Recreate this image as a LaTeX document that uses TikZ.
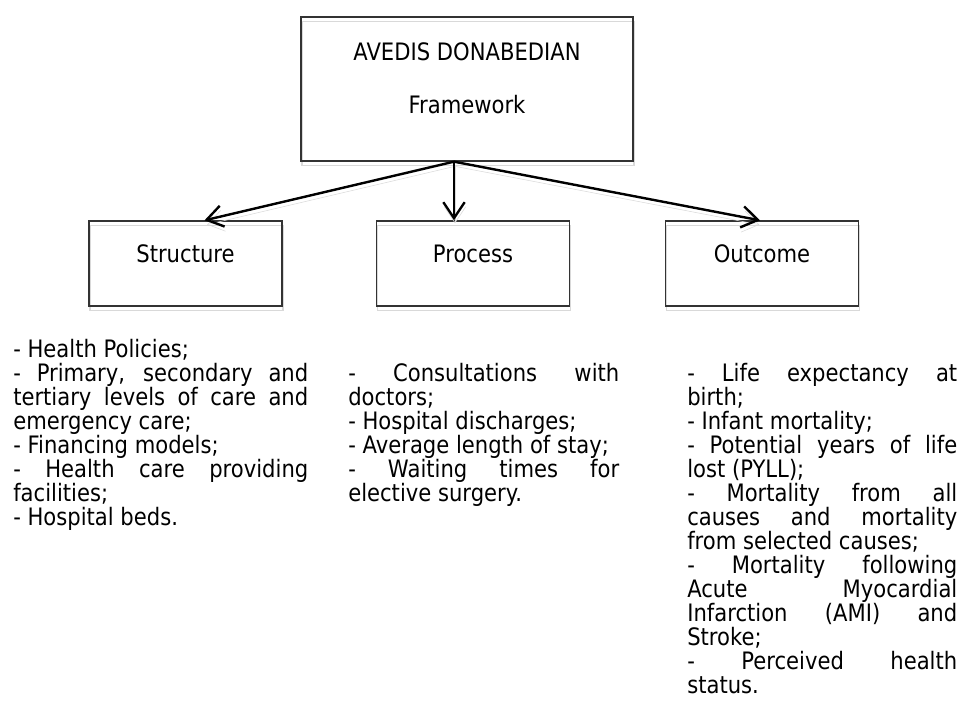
\documentclass[tikz,border=0pt]{standalone}
\usepackage{fontspec}
\setmainfont{DejaVu Sans}[FakeStretch=0.88]
\usetikzlibrary{arrows.meta,calc}
\tolerance=10000
\hbadness=10000
\hyphenpenalty=10000
\lineskiplimit=-10pt

\tikzset{
	softshadow/.style={preaction={draw=black!15,transform canvas={xshift=.75pt,yshift=-3.5pt}}},
}

\begin{document}
\begin{tikzpicture}[x=0.75pt,y=-0.75pt,
		font=\fontsize{18}{18}\selectfont,
		dbox/.style={draw=black!80,line width=1pt,softshadow,minimum width=144.75pt,minimum height=63.75pt,text height=13pt,text depth=15pt},
		itemlist/.style={inner sep=0pt,align=justify,anchor=base west},
		link/.style={-{Straight Barb[length=12pt,width=16pt]},line width=1.8pt,softshadow}]
	\useasboundingbox (0,0) rectangle (961,704);
	\node[dbox,minimum width=249pt,minimum height=108pt] (donab) at (467,89) {};
	\node[anchor=base] (donabname) at (467,60) {AVEDIS DONABEDIAN};
	\node[anchor=base] (donabsub) at (467,113) {Framework};
	\foreach \name/\lbl/\cx in {struct/Structure/185.5,proc/Process/473,outc/Outcome/762} {
			\node[dbox] (\name) at (\cx,263.5) {\lbl};
		}
	\foreach \name/\dx in {struct/19,proc/-19,outc/-2} {
			\draw[link] ($(donab.south)+(-13,0)$) -- ($(\name.north)+(\dx,0)$);
		}
	\node[itemlist,text width=221.25pt] (structlist) at (13,357) {%
		- Health Policies;\par
		- Primary, secondary and\linebreak tertiary levels of care and\linebreak emergency care;\par
		- Financing models;\par
		- Health care providing\linebreak facilities;\par
		- Hospital beds.};
	\node[itemlist,text width=203.25pt] (proclist) at (348,381) {%
		- Consultations with\linebreak doctors;\par
		- Hospital discharges;\par
		- Average length of stay;\par
		- Waiting times for\linebreak elective surgery.};
	\node[itemlist,text width=202.5pt] (outclist) at (687,381) {%
		- Life expectancy at\linebreak birth;\par
		- Infant mortality;\par
		- Potential years of life\linebreak lost (PYLL);\par
		- Mortality from all\linebreak causes and mortality\linebreak from selected causes;\par
		- Mortality following\linebreak Acute Myocardial\linebreak Infarction (AMI) and\linebreak Stroke;\par
		- Perceived health\linebreak status.};
\end{tikzpicture}
\end{document}
